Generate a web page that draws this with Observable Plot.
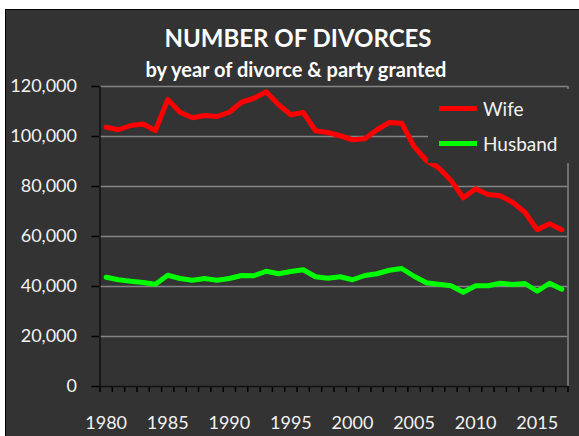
<!DOCTYPE html>
<html><head><meta charset="utf-8">
<script src="https://cdn.jsdelivr.net/npm/d3@7"></script>
<script src="https://cdn.jsdelivr.net/npm/@observablehq/plot@0.6"></script>
<style>
html,body{margin:0;padding:0;}
body{background:#fff;width:579px;height:436px;overflow:hidden;position:relative;font-family:Lato,"Open Sans",sans-serif;}
#frame{position:absolute;left:5px;top:9px;width:574px;height:427px;background:#333333;border-left:1px solid #000;border-top:1px solid #000;box-sizing:border-box;}
#title{position:absolute;left:0;width:596px;top:23px;text-align:center;color:#fff;font-weight:bold;font-size:24px;line-height:30px;}
#subtitle{position:absolute;left:0;width:592px;top:56px;text-align:center;color:#fff;font-weight:bold;font-size:20px;line-height:26px;}
#chart{position:absolute;left:0;top:60px;}
#legend{position:absolute;left:428px;top:89px;width:141px;height:74px;background:#333333;}
.row{position:absolute;left:11px;height:24px;display:flex;align-items:center;color:#f2f2f2;font-size:19px;}
.sw{width:38px;height:5px;margin-right:6px;}
</style></head>
<body>
<div id="frame"></div>
<div id="title">NUMBER OF DIVORCES</div>
<div id="subtitle">by year of divorce &amp; party granted</div>
<div id="chart"></div>
<div id="legend"></div>
<script>
const years = [1980,1981,1982,1983,1984,1985,1986,1987,1988,1989,1990,1991,1992,1993,1994,1995,1996,1997,1998,1999,2000,2001,2002,2003,2004,2005,2006,2007,2008,2009,2010,2011,2012,2013,2014,2015,2016,2017];
const wife = [103700,102700,104400,105000,102400,114800,109700,107500,108400,108000,109700,113700,115300,117900,112700,108700,109600,102300,101600,100300,98700,99100,102700,105600,105300,96000,90400,87500,82400,75500,79100,76800,76300,73700,69700,62700,65100,62700];
const husband = [43700,42700,42100,41600,40900,44500,43200,42500,43200,42500,43200,44400,44300,46100,45100,46000,46700,43900,43300,43900,42700,44400,45100,46500,47200,44100,41500,40900,40300,37700,40300,40300,41300,40800,41200,38100,41300,38900];
const seriesNames = ["Wife", "Husband"];
const seriesColors = ["#ff0000", "#00ff00"];
const yTicks = [0,20000,40000,60000,80000,100000,120000];
const xTickLabels = [1980,1985,1990,1995,2000,2005,2010,2015];

const data = [];
years.forEach((y, i) => {
  data.push({year: y, value: wife[i], party: seriesNames[0]});
  data.push({year: y, value: husband[i], party: seriesNames[1]});
});
const xDomain = [years[0] - 0.5, years[years.length - 1] + 0.5];
const boundaries = years.map(y => y - 0.5).concat([xDomain[1]]);

const plot = Plot.plot({
  width: 579,
  height: 376,
  marginLeft: 99.5,
  marginRight: 11.5,
  marginTop: 26,
  marginBottom: 50,
  style: {background: "transparent", fontFamily: "Lato, 'Open Sans', sans-serif", fontSize: "18px", color: "#f2f2f2"},
  x: {domain: xDomain, axis: null},
  y: {domain: [0, 120000], axis: null},
  color: {domain: seriesNames, range: seriesColors},
  marks: [
    Plot.ruleY(yTicks.filter(d => d > 0), {stroke: "#858585", strokeWidth: 1.5}),
    Plot.ruleX([xDomain[1]], {y1: 0, y2: 120000, stroke: "#858585", strokeWidth: 1.5}),
    Plot.axisY(yTicks, {label: null, tickSize: 8, tickPadding: 15, tickFormat: d3.format(","), stroke: "#000", fill: "#f2f2f2", strokeWidth: 1.5, fontSize: 18}),
    Plot.axisX(boundaries, {label: null, tickSize: 6, tickFormat: () => "", stroke: "#000", strokeWidth: 1.5}),
    Plot.axisX(xTickLabels, {label: null, tickSize: 0, tickPadding: 30, tickFormat: d => String(d), fill: "#f2f2f2", fontSize: 18}),
    Plot.ruleX([xDomain[0]], {y1: 0, y2: 120000, stroke: "#111", strokeWidth: 1.5}),
    Plot.ruleY([0], {stroke: "#111", strokeWidth: 1.5}),
    Plot.line(data, {x: "year", y: "value", z: "party", stroke: "party", strokeWidth: 5, strokeLinejoin: "round", strokeLinecap: "round"})
  ]
});
document.getElementById("chart").appendChild(plot);

const legend = document.getElementById("legend");
seriesNames.forEach((name, i) => {
  const row = document.createElement("div");
  row.className = "row";
  row.style.top = (7 + i * 35) + "px";
  const sw = document.createElement("span");
  sw.className = "sw";
  sw.style.background = seriesColors[i];
  row.appendChild(sw);
  row.appendChild(document.createTextNode(name));
  legend.appendChild(row);
});
</script>
</body></html>
